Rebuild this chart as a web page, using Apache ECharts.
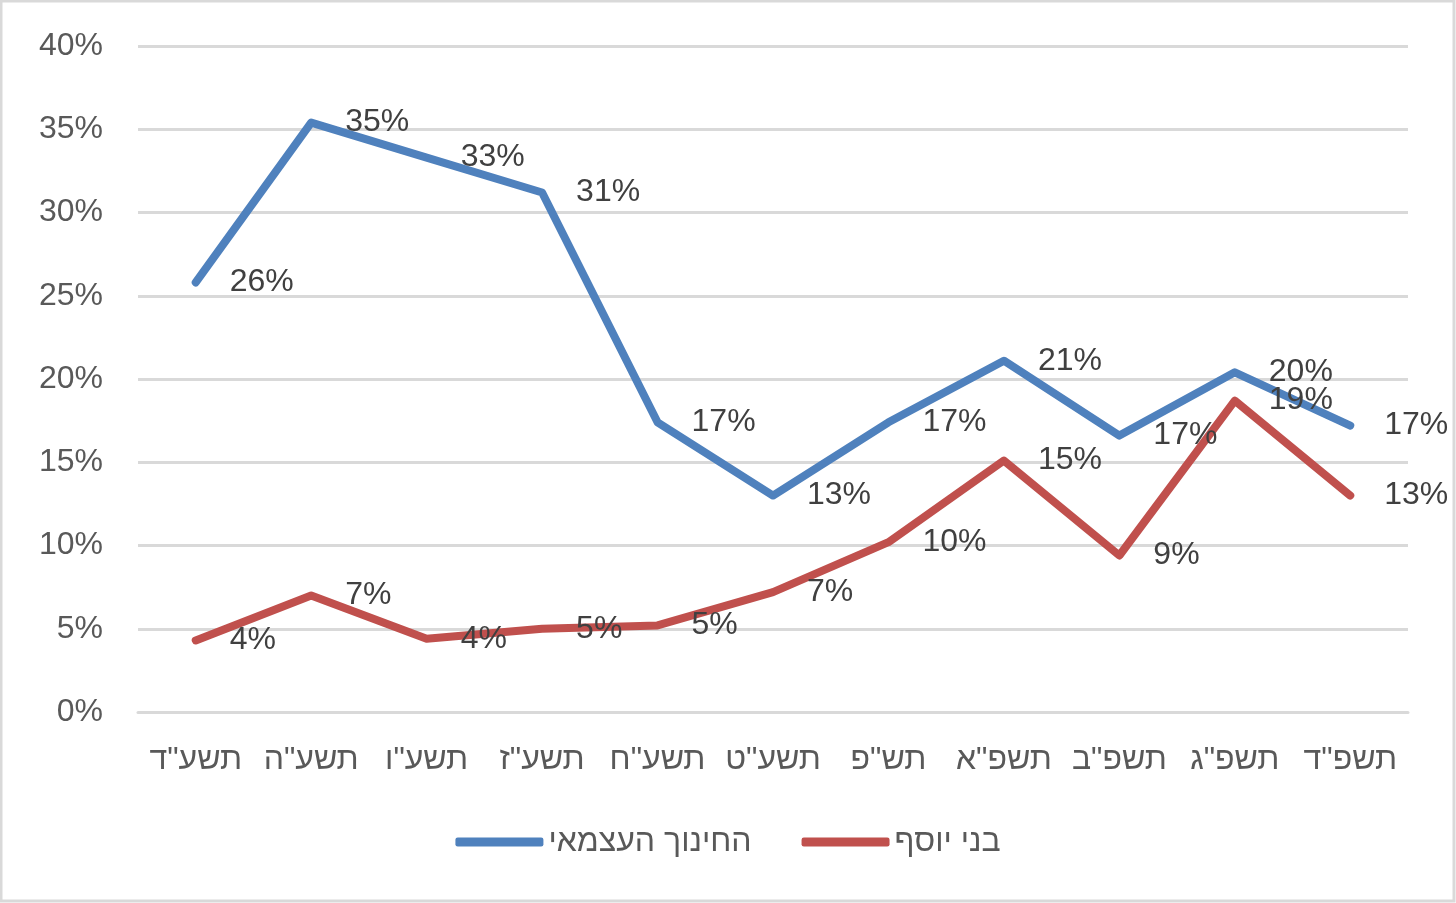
<!DOCTYPE html>
<html>
<head>
<meta charset="utf-8">
<script src="https://cdn.jsdelivr.net/npm/echarts@6/dist/echarts.min.js"></script>
<style>
html,body{margin:0;padding:0;background:#fff;}
#c{width:1456px;height:903px;}
</style>
</head>
<body>
<div id="c"></div>
<script>
const categories = ['תשע"ד','תשע"ה','תשע"ו','תשע"ז','תשע"ח','תשע"ט','תש"פ','תשפ"א','תשפ"ב','תשפ"ג','תשפ"ד'];
const seriesNames = ['החינוך העצמאי','בני יוסף'];
const hinuchValues = [25.8, 35.4, 33.3, 31.2, 17.4, 13.0, 17.4, 21.1, 16.6, 20.4, 17.2];
const beneiYosefValues = [4.3, 7.0, 4.4, 5.0, 5.2, 7.2, 10.2, 15.1, 9.4, 18.7, 13.0];
const yTicks = ['0%','5%','10%','15%','20%','25%','30%','35%','40%'];

const FONT = '"Liberation Sans", "DejaVu Sans", sans-serif';
const chart = echarts.init(document.getElementById('c'), null, {renderer:'canvas'});

function mkSeries(name, data, color){
  return {
    name: name,
    type: 'line',
    data: data,
    symbol: 'circle',
    symbolSize: 2,
    showSymbol: true,
    showAllSymbol: true,
    lineStyle: {color: color, width: 8, cap: 'round', join: 'round'},
    itemStyle: {color: color},
    label: {
      show: true,
      position: 'right',
      distance: 33,
      padding: [8, 0, 0, 0],
      color: '#404040',
      fontFamily: FONT,
      fontSize: 32,
      formatter: p => Math.round(p.value) + '%'
    },
    labelLayout: {hideOverlap: false},
    emphasis: {disabled: true},
    animation: false
  };
}

chart.setOption({
  backgroundColor: '#fff',
  animation: false,
  graphic: [{
    type: 'rect',
    shape: {x: 1, y: 1, width: 1453, height: 900},
    style: {fill: 'none', stroke: '#d9d9d9', lineWidth: 3},
    silent: true
  }],
  grid: {left: 138, right: 48, top: 46, bottom: 191, containLabel: false},
  xAxis: {
    type: 'category',
    data: categories,
    boundaryGap: true,
    axisLine: {show: true, lineStyle: {color: '#d9d9d9', width: 3}},
    axisTick: {show: false},
    axisLabel: {interval: 0, color: '#595959', fontFamily: FONT, fontSize: 32, margin: 32}
  },
  yAxis: {
    type: 'value',
    min: 0,
    max: 40,
    interval: 5,
    axisLine: {show: false},
    axisTick: {show: false},
    splitLine: {lineStyle: {color: '#d9d9d9', width: 3}},
    axisLabel: {
      color: '#595959', fontFamily: FONT, fontSize: 32, margin: 35,
      formatter: v => yTicks[Math.round(v / 5)]
    }
  },
  legend: {
    data: seriesNames,
    top: 821,
    left: 'center',
    icon: 'roundRect',
    itemWidth: 88,
    itemHeight: 9,
    itemGap: 50,
    textStyle: {color: '#595959', fontFamily: FONT, fontSize: 32}
  },
  series: [
    mkSeries(seriesNames[0], hinuchValues, '#4F81BD'),
    mkSeries(seriesNames[1], beneiYosefValues, '#C0504D')
  ]
});
</script>
</body>
</html>
